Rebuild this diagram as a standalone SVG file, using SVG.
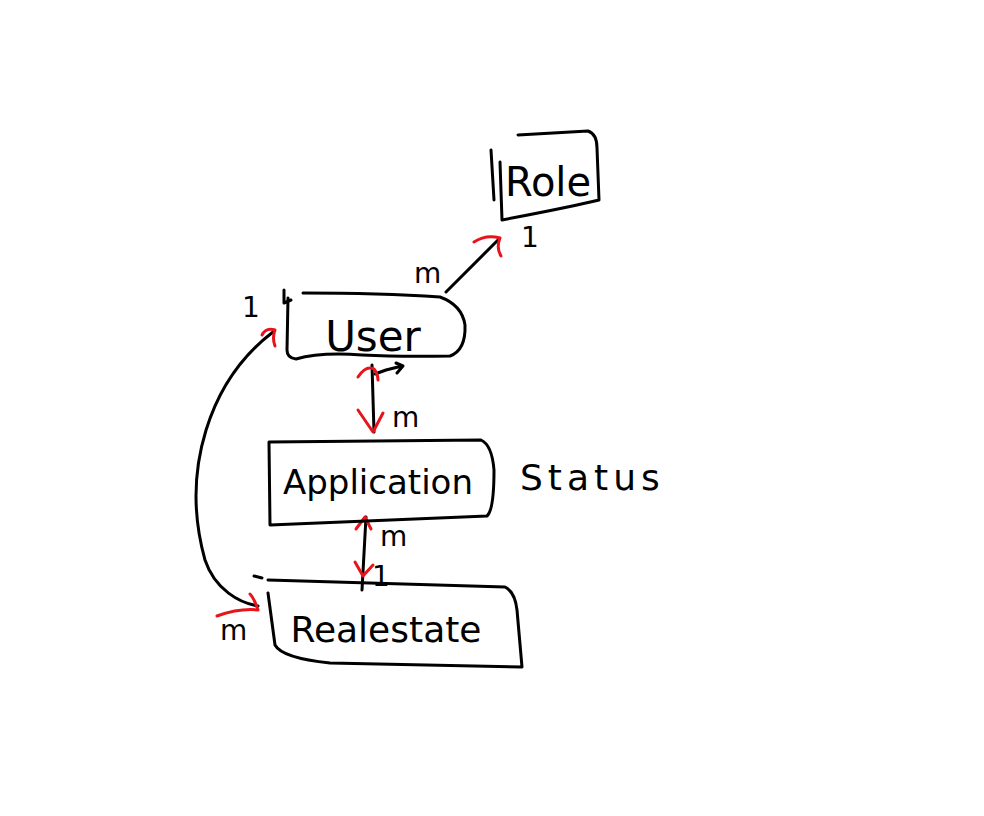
<svg xmlns="http://www.w3.org/2000/svg" width="984" height="816" viewBox="0 0 984 816">
<style>
.s{fill:none;stroke:#000;stroke-width:3;stroke-linecap:round;stroke-linejoin:round}
.r{fill:none;stroke:#e8141b;stroke-width:3;stroke-linecap:round;stroke-linejoin:round}
.t{font-family:"DejaVu Sans","Liberation Sans",sans-serif;fill:#000}
.lbl{font-family:"DejaVu Sans","Liberation Sans",sans-serif;fill:#000;font-size:28px}
</style>
<rect width="984" height="816" fill="#fff"/>
<g id="connectors">
  <path class="s" d="M446,292 L498,240"/>
  <path class="r" d="M474,242 Q486,234 500,238 M500,238 Q496,248 501,256"/>
  <path class="s" d="M273,332 C210,380 180,470 205,560 C215,590 240,603 258,606"/>
  <path class="r" d="M262,335 Q266,327 275,330 M275,330 Q272,338 275,346"/>
  <path class="r" d="M217,616 Q240,608 258,610 M258,610 Q254,598 250,594"/>
  <path class="s" d="M372,365 L374,432"/>
  <path class="s" d="M375,374 L386,370 L402,366 M396,363 L403,366 L397,373"/>
  <path class="r" d="M358,377 Q366,365 374,369 Q378,374 378,380"/>
  <path class="r" d="M358,410 L373,432 L383,413"/>
  <path class="s" d="M366,517 L362,590"/>
  <path class="r" d="M356,529 L365,517 L371,529"/>
  <path class="r" d="M355,562 L363,576 L373,565"/>
</g>
<g id="role">
  <path class="s" d="M518,135 L588,131 Q597,134 597,148 L599,200 Q575,206 502,220 L500,162 M491,150 L494,200"/>
  <text class="t" x="548" y="196" font-size="40" text-anchor="middle">Role</text>
</g>
<g id="user">
  <path class="s" d="M303,293 Q380,293 440,297 Q462,305 465,325 Q466,350 450,356 Q400,357 362,355 Q320,352 296,359 Q287,358 287,350 L288,298 M284,290 L284,303 L291,300"/>
  <text class="t" x="373" y="351" font-size="42" text-anchor="middle">User</text>
</g>
<g id="application">
  <path class="s" d="M269,442 L481,440 Q492,445 494,470 Q494,510 487,516 L270,525 L269,442"/>
  <text class="t" x="378" y="494" font-size="34" text-anchor="middle">Application</text>
</g>
<g id="status">
  <text class="t" x="520" y="490" font-size="36" letter-spacing="5">Status</text>
</g>
<g id="realestate">
  <path class="s" d="M268,580 L505,587 Q515,592 517,610 L522,667 L330,663 Q282,658 275,645 L268,593 M254,576 L262,578"/>
  <text class="t" x="386" y="642" font-size="36" text-anchor="middle">Realestate</text>
</g>
<g id="labels">
  <text class="lbl" x="414" y="283">m</text>
  <text class="lbl" x="521" y="247" font-size="20">1</text>
  <text class="lbl" x="242" y="317">1</text>
  <text class="lbl" x="392" y="427">m</text>
  <text class="lbl" x="380" y="546">m</text>
  <text class="lbl" x="372" y="586" font-size="20">1</text>
  <text class="lbl" x="220" y="640">m</text>
</g>
</svg>
